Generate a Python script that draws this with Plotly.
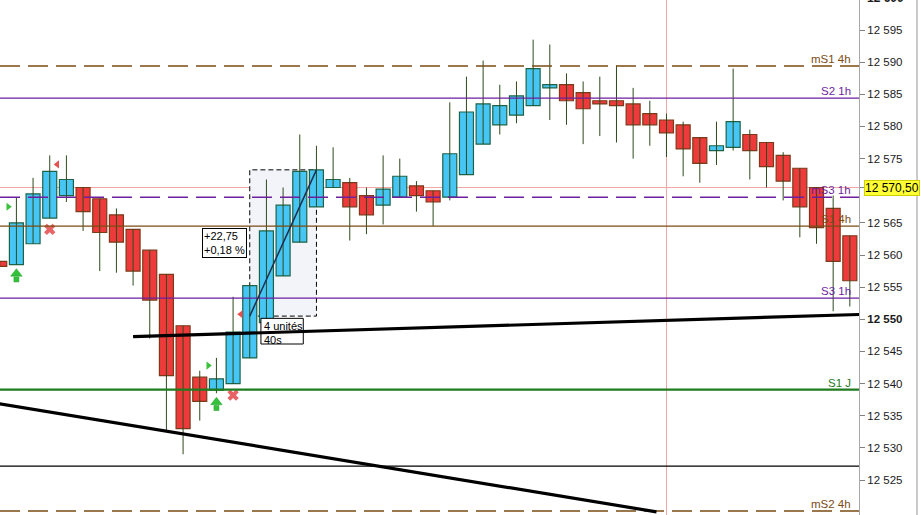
import plotly.graph_objects as go

# ---------------- data ----------------
candle_idx = list(range(52))
opens = [12559.0, 12558.5, 12561.75, 12565.75, 12569.25, 12570.5, 12568.75, 12566.25, 12564.0, 12560.75,
         12557.0, 12549.0, 12541.0, 12539.0, 12540.0, 12544.0, 12549.5, 12556.75, 12562.0, 12567.5,
         12570.5, 12571.25, 12569.25, 12567.75, 12569.0, 12570.75, 12570.0, 12569.0, 12572.5, 12577.25,
         12580.25, 12581.75, 12583.25, 12586.0, 12586.5, 12585.25, 12584.0, 12584.0, 12583.5, 12582.0,
         12581.0, 12580.25, 12578.25, 12576.25, 12576.75, 12578.75, 12577.5, 12575.5, 12573.5, 12570.5,
         12567.25, 12563.0]
highs = [12559.0, 12569.0, 12572.0, 12575.5, 12575.5, 12570.5, 12568.75, 12567.25, 12564.0, 12560.75,
         12557.0, 12549.0, 12542.0, 12544.0, 12553.5, 12555.25, 12571.75, 12570.5, 12578.75, 12577.0,
         12576.75, 12572.0, 12570.5, 12575.5, 12575.0, 12571.5, 12570.0, 12583.75, 12587.75, 12590.25,
         12586.5, 12587.0, 12593.5, 12592.75, 12588.25, 12587.0, 12587.75, 12589.5, 12586.0, 12584.0,
         12582.0, 12580.75, 12578.25, 12580.75, 12589.0, 12579.5, 12577.5, 12576.0, 12573.5, 12570.5,
         12569.25, 12563.0]
lows = [12558.25, 12558.5, 12561.75, 12565.75, 12568.25, 12563.75, 12557.5, 12557.25, 12555.25, 12547.0,
        12532.75, 12529.0, 12534.25, 12538.5, 12540.0, 12544.0, 12549.5, 12556.75, 12562.0, 12567.5,
        12570.5, 12562.25, 12563.25, 12564.75, 12569.0, 12566.75, 12564.5, 12568.5, 12572.5, 12577.25,
        12578.75, 12580.5, 12583.25, 12581.0, 12580.25, 12577.25, 12578.5, 12577.5, 12575.0, 12577.0,
        12575.25, 12572.25, 12571.25, 12574.0, 12576.25, 12571.75, 12570.5, 12568.5, 12562.75, 12561.75,
        12551.25, 12552.0]
closes = [12558.25, 12565.0, 12569.5, 12573.0, 12571.75, 12566.75, 12563.5, 12562.0, 12557.5, 12553.0,
          12541.25, 12533.0, 12537.25, 12540.75, 12548.0, 12555.25, 12563.75, 12567.75, 12573.0, 12573.25,
          12571.75, 12567.5, 12566.25, 12570.25, 12572.25, 12569.25, 12568.25, 12575.75, 12582.25, 12583.5,
          12583.25, 12584.75, 12589.0, 12586.5, 12584.0, 12582.75, 12583.5, 12583.25, 12580.25, 12580.25,
          12579.0, 12576.5, 12574.25, 12577.0, 12580.75, 12576.25, 12573.75, 12571.5, 12567.5, 12564.25,
          12559.0, 12556.0]

level_names = ["mS1 4h", "S2 1h", "mS3 1h", "S1 4h", "S3 1h", "S1 J", "mS2 4h"]
level_values = [12589.4, 12584.4, 12569.0, 12564.5, 12553.3, 12539.05, 12520.2]
level_colors = ["#7B4B13", "#6E1F9E", "#6E1F9E", "#7B4B13", "#6E1F9E", "#1E7B1E", "#7B4B13"]
level_dash = ["20px,8px", "solid", "20px,8px", "solid", "solid", "solid", "20px,8px"]
level_width = [1.5, 1.3, 1.5, 1.3, 1.3, 2.2, 1.5]

last_price = 12570.5
last_price_label = "12 570,50"
thin_black_level = 12527.15
vertical_marker_idx = 40

trend1_x = [8.0, 51.6]
trend1_y = [12547.3, 12550.75]
trend2_x = [0.0, 39.4]
trend2_y = [12536.85, 12520.05]

measure_x = [15.0, 19.0]
measure_y = [12550.5, 12573.25]
measure_text = "+22,75<br>+0,18 %"
duration_text = "4 unités<br>40s"

y_ticks = [12525, 12530, 12535, 12540, 12545, 12550, 12555, 12560, 12565, 12570.5, 12575, 12580, 12585, 12590, 12595]
y_ticktext = ["12 525", "12 530", "12 535", "12 540", "12 545", "<b>12 550</b>", "12 555", "12 560", "12 565", "",
              "12 575", "12 580", "12 585", "12 590", "12 595"]
top_cut_label = "<b>12 600</b>"

buy_arrow_x = [1, 13]
buy_arrow_head_y = [12557.1, 12537.1]
buy_arrow_stem_y = [12556.2, 12536.2]
green_tri_x = [0.51, 12.51]
green_tri_y = [12567.5, 12542.8]
red_tri_x = [3.45, 14.46]
red_tri_y = [12574.1, 12550.8]
red_x_x = [3, 14]
red_x_y = [12564.0, 12538.2]

# ---------------- figure ----------------
X_RANGE = [0.016, 51.55]
Y_RANGE = [12519.56, 12599.67]
FONT = "Liberation Sans, Arial"

fig = go.Figure()

# wicks
wx, wy = [], []
for i, h, l in zip(candle_idx, highs, lows):
    wx += [i, i, None]
    wy += [l, h, None]
fig.add_trace(go.Scatter(x=wx, y=wy, mode="lines", line=dict(color="#2E4B1C", width=1),
                         hoverinfo="skip", showlegend=False))

# bodies
up = [c >= o for o, c in zip(opens, closes)]
base = [min(o, c) for o, c in zip(opens, closes)]
height = [max(abs(c - o), 0.35) for o, c in zip(opens, closes)]
fill = ["#45C6F5" if u else "#EE3A3A" for u in up]
border = ["#1E6347" if u else "#7A3B1A" for u in up]
fig.add_trace(go.Bar(x=candle_idx, y=height, base=base, width=0.84,
                     marker=dict(color=fill, line=dict(color=border, width=1.2)),
                     hoverinfo="skip", showlegend=False))

# signal markers
fig.add_trace(go.Scatter(x=buy_arrow_x, y=buy_arrow_stem_y, mode="markers",
                         marker=dict(symbol="square", size=5, color="#33C03A",
                                     line=dict(color="#22A02A", width=0.5)),
                         hoverinfo="skip", showlegend=False))
fig.add_trace(go.Scatter(x=buy_arrow_x, y=buy_arrow_head_y, mode="markers",
                         marker=dict(symbol="triangle-up", size=10, color="#33C03A",
                                     line=dict(color="#22A02A", width=0.5)),
                         hoverinfo="skip", showlegend=False))
fig.add_trace(go.Scatter(x=green_tri_x, y=green_tri_y, mode="markers",
                         marker=dict(symbol="triangle-right", size=7, color="#38C23A"),
                         hoverinfo="skip", showlegend=False))
fig.add_trace(go.Scatter(x=red_tri_x, y=red_tri_y, mode="markers",
                         marker=dict(symbol="triangle-left", size=7, color="#E85050"),
                         hoverinfo="skip", showlegend=False))
fig.add_trace(go.Scatter(x=red_x_x, y=red_x_y, mode="markers",
                         marker=dict(symbol="x", size=10, color="#E86464"),
                         hoverinfo="skip", showlegend=False))

shapes = []
shapes.append(dict(type="rect", xref="x", yref="y", x0=measure_x[0], x1=measure_x[1],
                   y0=measure_y[0], y1=measure_y[1], fillcolor="#F3F4FA",
                   line=dict(color="black", width=1, dash="5px,3px"), layer="below"))
shapes.append(dict(type="line", xref="paper", yref="y", x0=0, x1=1, y0=last_price, y1=last_price,
                   line=dict(color="#F2A5A5", width=1), layer="below"))
shapes.append(dict(type="line", xref="x", yref="paper", x0=vertical_marker_idx, x1=vertical_marker_idx,
                   y0=0, y1=1, line=dict(color="#F2A5A5", width=1), layer="below"))
for v, c, d, w in zip(level_values, level_colors, level_dash, level_width):
    shapes.append(dict(type="line", xref="paper", yref="y", x0=0, x1=1, y0=v, y1=v,
                       line=dict(color=c, width=w, dash=d), layer="above"))
shapes.append(dict(type="line", xref="paper", yref="y", x0=0, x1=1, y0=thin_black_level, y1=thin_black_level,
                   line=dict(color="black", width=1.3), layer="above"))
shapes.append(dict(type="line", xref="x", yref="y", x0=measure_x[0], x1=measure_x[1],
                   y0=measure_y[0], y1=measure_y[1], line=dict(color="#1F2F4F", width=1.5), layer="above"))
shapes.append(dict(type="rect", xref="x", yref="y", x0=15.67, x1=18.21, y0=12546.16, y1=12550.15,
                   fillcolor="white", line=dict(color="black", width=1), layer="above"))
shapes.append(dict(type="line", xref="x", yref="y", x0=trend1_x[0], x1=trend1_x[1],
                   y0=trend1_y[0], y1=trend1_y[1], line=dict(color="black", width=3.2), layer="above"))
shapes.append(dict(type="line", xref="x", yref="y", x0=trend2_x[0], x1=trend2_x[1],
                   y0=trend2_y[0], y1=trend2_y[1], line=dict(color="black", width=3.2), layer="above"))
shapes.append(dict(type="line", xref="paper", yref="paper", x0=917 / 859, x1=917 / 859, y0=0, y1=1,
                   line=dict(color="#B8B8B8", width=1.5)))

annotations = []
for n, v, c in zip(level_names, level_values, level_colors):
    annotations.append(dict(x=853 / 859, xref="paper", y=v, yref="y", text=n, showarrow=False,
                            xanchor="right", yanchor="bottom", yshift=-1,
                            font=dict(family=FONT, size=11.5, color=c)))
annotations.append(dict(x=1, xref="paper", y=last_price, yref="y", text=last_price_label, showarrow=False,
                        xanchor="left", yanchor="middle", xshift=5, bgcolor="#FFFF33",
                        bordercolor="#D0D000", borderwidth=1, borderpad=0,
                        font=dict(family=FONT, size=12, color="black")))
annotations.append(dict(x=1, xref="paper", y=1, yref="paper", text=top_cut_label, showarrow=False,
                        xanchor="left", yanchor="middle", xshift=6, yshift=2,
                        font=dict(family=FONT, size=12, color="#1a1a1a")))
annotations.append(dict(x=12.15, xref="x", y=12564.16, yref="y", text=measure_text, showarrow=False,
                        xanchor="left", yanchor="top", align="left", bgcolor="white",
                        bordercolor="black", borderwidth=1, borderpad=1,
                        font=dict(family=FONT, size=11, color="black")))
annotations.append(dict(x=15.72, xref="x", y=12550.15, yref="y", text=duration_text, showarrow=False,
                        xanchor="left", yanchor="top", align="left", borderpad=1,
                        font=dict(family=FONT, size=11, color="black")))

fig.update_layout(
    width=922, height=515,
    margin=dict(l=0, r=63, t=0, b=0, autoexpand=False),
    paper_bgcolor="white", plot_bgcolor="white",
    showlegend=False,
    shapes=shapes, annotations=annotations,
    xaxis=dict(range=X_RANGE, visible=False, fixedrange=True),
    yaxis=dict(range=Y_RANGE, side="right", showgrid=False, zeroline=False,
               showline=True, linecolor="#A8A8A8", linewidth=1,
               ticks="outside", ticklen=5, tickcolor="#808080",
               tickvals=y_ticks, ticktext=y_ticktext,
               tickfont=dict(family=FONT, size=11.5, color="#1a1a1a"),
               fixedrange=True, automargin=False),
)

fig.write_html("out.html", config={"displayModeBar": False},
               post_script="document.body.style.margin='0';document.body.style.padding='0';document.body.style.overflow='hidden';")
